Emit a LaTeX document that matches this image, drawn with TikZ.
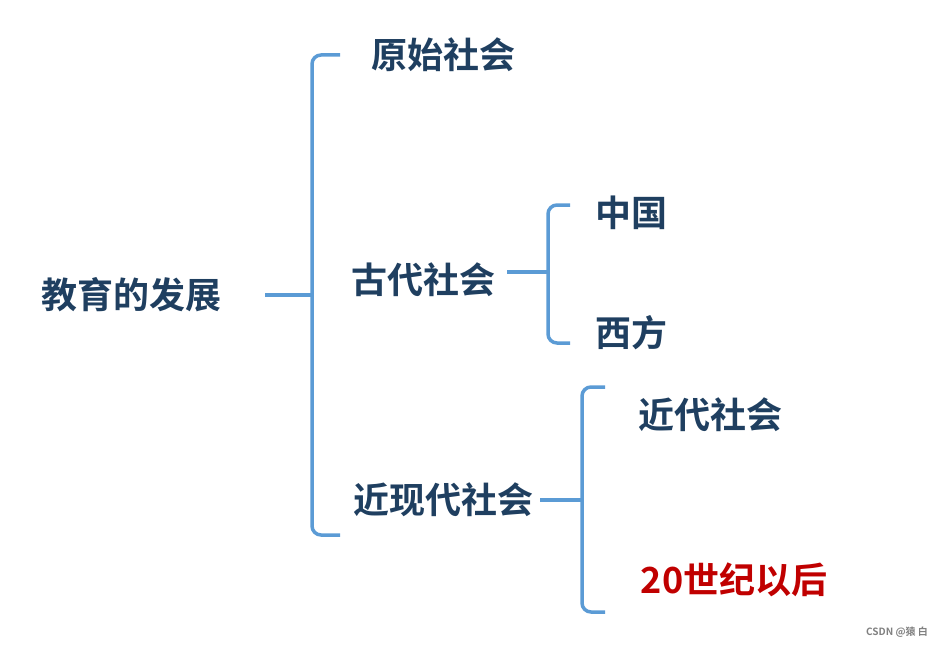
\documentclass[tikz,border=0pt]{standalone}
\usepackage{fontspec}
\newfontfamily\cjk{Noto Sans CJK SC Bold}
\definecolor{txtblue}{HTML}{1F3F60}
\definecolor{brblue}{HTML}{5B9BD5}
\definecolor{redtxt}{HTML}{C00000}
\begin{document}
\begin{tikzpicture}[x=1pt,y=-1pt,
  lbl/.style={font=\cjk\fontsize{36}{40}\selectfont,text=txtblue,inner sep=0pt},
  br/.style={draw=brblue,line width=3.5pt,rounded corners=9pt}]
\useasboundingbox (0,0) rectangle (949,647);
\node[lbl] (root) at (131,295) {教育的发展};
\node[lbl] (ys) at (443,55) {原始社会};
\node[lbl] (gd) at (423,280) {古代社会};
\node[lbl] (jx) at (443,500) {近现代社会};
\node[lbl] (zg) at (631,213) {中国};
\node[lbl] (xf) at (631,333) {西方};
\node[lbl] (jd) at (710,415) {近代社会};
\node[lbl,text=redtxt] (sj) at (734,580) {20世纪以后};
\node[font=\fontsize{10}{12}\selectfont\cjk,text=gray,inner sep=0pt] (wm) at (897,632) {CSDN @猿 白};
% bracket 1
\coordinate (a1) at (265,295); \coordinate (a2) at (312,295);
\draw[br] (340,55) -- (312,55) -- (312,535) -- (340,535);
\draw[br,rounded corners=0pt] (a1) -- (a2);
% bracket 2
\coordinate (b1) at (507,272); \coordinate (b2) at (548,272);
\draw[br] (570,205) -- (548,205) -- (548,343) -- (570,343);
\draw[br,rounded corners=0pt] (b1) -- (b2);
% bracket 3
\coordinate (c1) at (540,500); \coordinate (c2) at (582,500);
\draw[br] (605,387) -- (582,387) -- (582,612) -- (605,612);
\draw[br,rounded corners=0pt] (c1) -- (c2);
\end{tikzpicture}
\end{document}
